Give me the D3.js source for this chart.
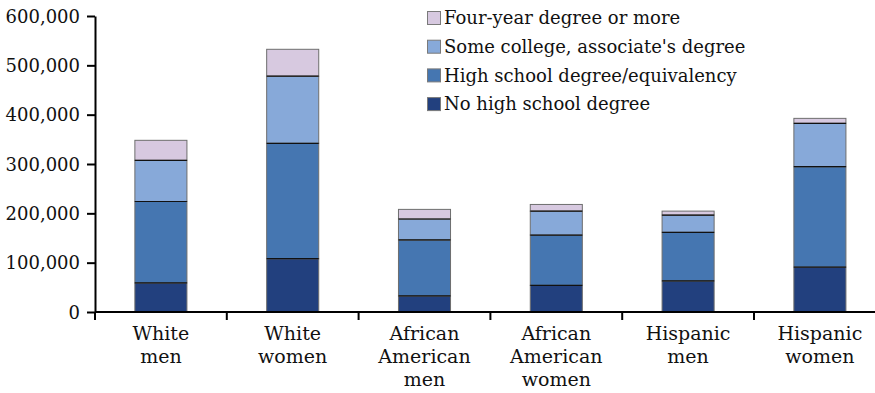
<!DOCTYPE html>
<html><head><meta charset="utf-8">
<script src="https://cdn.jsdelivr.net/npm/d3@7"></script>
<style>body{margin:0;background:#fff}svg{display:block}text{font-family:"DejaVu Serif",serif;fill:#111}</style>
</head><body>
<script>
const categories = [["White","men"],["White","women"],["African","American","men"],["African","American","women"],["Hispanic","men"],["Hispanic","women"]];
const seriesNames = ["No high school degree","High school degree/equivalency","Some college, associate's degree","Four-year degree or more"];
const noHS      = [59000, 108000, 32500, 54000, 63000, 91000];
const highSchool= [165000, 234000, 113500, 102000, 98500, 203500];
const someColl  = [83500, 136000, 42500, 48500, 35000, 88000];
const fourYear  = [40500, 54500, 19500, 13500, 8000, 10000];
const yTicks = [0,100000,200000,300000,400000,500000,600000];
const colors = ["#22407e","#4576b1","#87a9d9","#d7c9e0"];

const W=875,H=393;
const svg=d3.select("body").append("svg").attr("width",W).attr("height",H);
const x0=95, y0=312, yTop=16, band=131.8;
const x=d3.scaleBand().domain(d3.range(categories.length)).range([x0,x0+band*categories.length]).padding(0);
const y=d3.scaleLinear().domain([0,600000]).range([y0,yTop]);
const data=categories.map((c,i)=>({i,noHS:noHS[i],hs:highSchool[i],sc:someColl[i],fy:fourYear[i]}));
const keys=["noHS","hs","sc","fy"];
const stack=d3.stack().keys(keys)(data);
const bw=x.bandwidth()*0.395;

const g=svg.append("g");
stack.forEach((layer,k)=>{
  g.selectAll(null).data(layer).enter().append("rect")
   .attr("x",d=>x(d.data.i)+(x.bandwidth()-bw)/2)
   .attr("width",bw)
   .attr("y",d=>y(d[1]))
   .attr("height",d=>y(d[0])-y(d[1]))
   .attr("fill",colors[k])
   .attr("stroke","#6e6e6e").attr("stroke-width",1);
});
stack.slice(0,3).forEach(layer=>{
  g.selectAll(null).data(layer).enter().append("line")
   .attr("x1",d=>x(d.data.i)+(x.bandwidth()-bw)/2)
   .attr("x2",d=>x(d.data.i)+(x.bandwidth()+bw)/2)
   .attr("y1",d=>y(d[1])).attr("y2",d=>y(d[1]))
   .attr("stroke","#111").attr("stroke-width",1.2);
});

const yAxis=d3.axisLeft(y).tickValues(yTicks).tickFormat(d3.format(",")).tickSize(8).tickSizeOuter(0);
const ya=svg.append("g").attr("transform",`translate(${x0},0)`).call(yAxis);
ya.select(".domain").attr("stroke","#000").attr("stroke-width",2);
ya.selectAll(".tick line").attr("stroke","#000").attr("stroke-width",2);
ya.selectAll(".tick text").attr("font-size",18).attr("x",-15).attr("dy","0.35em").style("font-family","DejaVu Serif").attr("fill","#111");

svg.append("line").attr("x1",x0).attr("x2",W).attr("y1",y0).attr("y2",y0).attr("stroke","#000").attr("stroke-width",2);
const bounds=d3.range(categories.length+1).map(i=>x0+i*x.bandwidth());
svg.selectAll(null).data(bounds).enter().append("line")
  .attr("x1",d=>d).attr("x2",d=>d).attr("y1",y0).attr("y2",y0+8).attr("stroke","#000").attr("stroke-width",2);
categories.forEach((lines,i)=>{
  const t=svg.append("text").attr("text-anchor","middle").attr("font-size",19);
  lines.forEach((l,j)=>t.append("tspan").attr("x",x(i)+x.bandwidth()/2).attr("y",340+j*23).text(l));
});

const leg=[3,2,1,0];
leg.forEach((k,r)=>{
  const cy=18+r*28.7;
  svg.append("rect").attr("x",427.5).attr("y",cy-6.5).attr("width",13).attr("height",13).attr("fill",colors[k]).attr("stroke","#7a7a7a");
  svg.append("text").attr("x",444).attr("y",cy).attr("dy","0.35em").attr("font-size",18).text(seriesNames[k]);
});
</script>
</body></html>
